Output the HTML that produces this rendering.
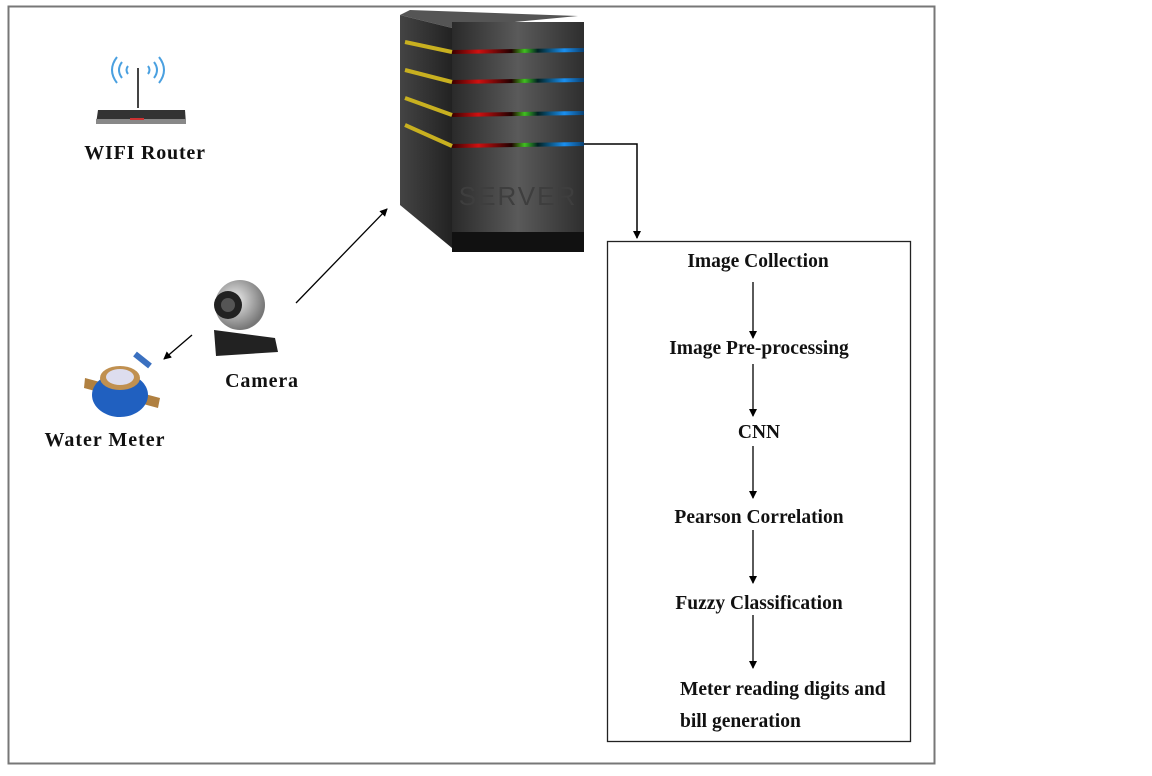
<!DOCTYPE html>
<html><head><meta charset="utf-8"><style>
body{margin:0;background:#fff;}
svg text{font-family:"Liberation Serif",serif;font-weight:bold;fill:#111;}
</style></head><body>
<svg width="1152" height="771" viewBox="0 0 1152 771" xmlns="http://www.w3.org/2000/svg">
<defs>
<marker id="ah" markerWidth="8" markerHeight="8" refX="7" refY="4" orient="auto" markerUnits="userSpaceOnUse"><path d="M0,0 L8,4 L0,8 Z" fill="#000"/></marker>
<linearGradient id="front" x1="0" x2="1"><stop offset="0" stop-color="#2a2a2a"/><stop offset="0.5" stop-color="#5a5a5a"/><stop offset="1" stop-color="#2e2e2e"/></linearGradient>
<linearGradient id="side" x1="0" x2="1"><stop offset="0" stop-color="#444"/><stop offset="1" stop-color="#222"/></linearGradient>
<linearGradient id="led" x1="0" x2="1"><stop offset="0" stop-color="#3a0000"/><stop offset="0.2" stop-color="#d01010"/><stop offset="0.45" stop-color="#200"/><stop offset="0.55" stop-color="#40c020"/><stop offset="0.65" stop-color="#022"/><stop offset="0.85" stop-color="#1a8ff0"/><stop offset="1" stop-color="#0a4070"/></linearGradient>
<radialGradient id="ball" cx="0.4" cy="0.4" r="0.6"><stop offset="0" stop-color="#eee"/><stop offset="1" stop-color="#777"/></radialGradient>
</defs>
<rect x="8.5" y="6.5" width="926" height="757" fill="none" stroke="#777" stroke-width="2"/>
<g>
<path d="M122,62 q-6,8 0,16 M117,57 q-10,13 0,26 M154,62 q6,8 0,16 M159,57 q10,13 0,26 M128,66 q-3,4 0,8 M148,66 q3,4 0,8" stroke="#4aa0e0" stroke-width="2" fill="none"/>
<line x1="138" y1="68" x2="138" y2="108" stroke="#444" stroke-width="2"/>
<path d="M98,110 L185,110 L186,124 L96,124 Z" fill="#333"/>
<rect x="96" y="119" width="90" height="5" fill="#888"/>
<rect x="130" y="118" width="14" height="2" fill="#c33"/>
</g>
<text x="145" y="159" font-size="20" letter-spacing="0.8" text-anchor="middle">WIFI Router</text>
<g>
<polygon points="400,15 410,10 578,16 452,28" fill="#555"/>
<polygon points="400,15 452,28 452,248 400,205" fill="url(#side)"/>
<rect x="452" y="22" width="132" height="230" fill="url(#front)"/>
<rect x="452" y="232" width="132" height="20" fill="#111"/>
<g stroke-width="4">
<line x1="452" y1="52" x2="584" y2="50" stroke="url(#led)"/>
<line x1="452" y1="82" x2="584" y2="80" stroke="url(#led)"/>
<line x1="452" y1="115" x2="584" y2="113" stroke="url(#led)"/>
<line x1="452" y1="146" x2="584" y2="144" stroke="url(#led)"/>
<line x1="405" y1="42" x2="452" y2="52" stroke="#c8b020"/>
<line x1="405" y1="70" x2="452" y2="82" stroke="#c8b020"/>
<line x1="405" y1="98" x2="452" y2="115" stroke="#c8b020"/>
<line x1="405" y1="125" x2="452" y2="146" stroke="#c8b020"/>
</g>
<text x="518" y="205" font-size="26" text-anchor="middle" style="fill:#3e3e3e;font-family:'Liberation Sans',sans-serif;font-weight:normal;letter-spacing:2px">SERVER</text>
</g>
<polyline points="584,144 637,144 637,238" fill="none" stroke="#000" stroke-width="1.5" marker-end="url(#ah)"/>
<g>
<circle cx="240" cy="305" r="25" fill="url(#ball)"/>
<circle cx="228" cy="305" r="14" fill="#222"/>
<circle cx="228" cy="305" r="7" fill="#555"/>
<path d="M214,330 L275,338 L278,352 L216,356 Z" fill="#222"/>
</g>
<text x="262" y="387" font-size="20" letter-spacing="0.8" text-anchor="middle">Camera</text>
<line x1="296" y1="303" x2="387" y2="209" stroke="#000" stroke-width="1.3" marker-end="url(#ah)"/>
<line x1="192" y1="335" x2="164" y2="359" stroke="#000" stroke-width="1.3" marker-end="url(#ah)"/>
<g>
<path d="M85,378 L160,398 L158,408 L84,388 Z" fill="#b08040"/>
<ellipse cx="120" cy="395" rx="28" ry="22" fill="#2060c0"/>
<ellipse cx="120" cy="378" rx="20" ry="12" fill="#c09050"/>
<ellipse cx="120" cy="377" rx="14" ry="8" fill="#dde"/>
<line x1="135" y1="354" x2="150" y2="366" stroke="#3a70c0" stroke-width="6"/>
</g>
<text x="105" y="446" font-size="20" letter-spacing="1" text-anchor="middle">Water Meter</text>
<rect x="607.5" y="241.5" width="303" height="500" fill="none" stroke="#222" stroke-width="1.3"/>
<g font-size="19.5">
<text x="758" y="267" text-anchor="middle">Image Collection</text>
<text x="759" y="354" text-anchor="middle">Image Pre-processing</text>
<text x="759" y="438" text-anchor="middle">CNN</text>
<text x="759" y="523" text-anchor="middle">Pearson Correlation</text>
<text x="759" y="609" text-anchor="middle">Fuzzy Classification</text>
<text x="680" y="695">Meter reading digits and</text>
<text x="680" y="727">bill generation</text>
</g>
<g stroke="#000" stroke-width="1.3" marker-end="url(#ah)">
<line x1="753" y1="282" x2="753" y2="338"/>
<line x1="753" y1="364" x2="753" y2="416"/>
<line x1="753" y1="446" x2="753" y2="498"/>
<line x1="753" y1="530" x2="753" y2="583"/>
<line x1="753" y1="615" x2="753" y2="668"/>
</g>
</svg>
</body></html>
